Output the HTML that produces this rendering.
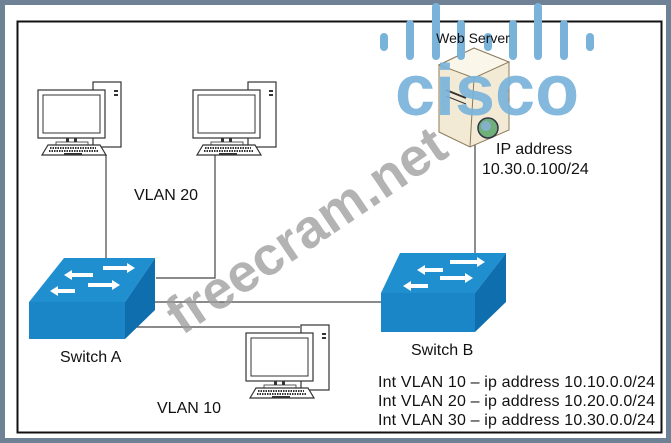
<!DOCTYPE html>
<html><head><meta charset="utf-8"><style>
html,body{margin:0;padding:0;background:#6f8195;}
svg{display:block}
text{font-family:"Liberation Sans",sans-serif;}
</style></head><body>
<svg width="671" height="443" viewBox="0 0 671 443" xmlns="http://www.w3.org/2000/svg">
<rect x="0" y="0" width="671" height="443" fill="#6f8195"/>
<rect x="5" y="5" width="661" height="433" fill="#fff"/>
<rect x="17.5" y="21.5" width="644" height="411" fill="none" stroke="#111" stroke-width="2"/>
<defs>
<g id="pc">
 <rect x="55" y="0" width="28" height="65" fill="#fff" stroke="#333" stroke-width="1.2"/>
 <rect x="76" y="8" width="4" height="2" fill="#333"/><rect x="76" y="12" width="4" height="2" fill="#333"/>
 <rect x="0" y="8" width="67" height="48" fill="#fff" stroke="#333" stroke-width="1.2"/>
 <rect x="5" y="13" width="57" height="38" fill="#fff" stroke="#333" stroke-width="1"/>
 <rect x="28" y="56" width="3" height="5" fill="#333"/><rect x="36" y="56" width="3" height="5" fill="#333"/>
 <rect x="18" y="60" width="32" height="3" fill="#fff" stroke="#333" stroke-width="0.8"/>
 <polygon points="4,73 10,63 62,63 68,73" fill="#fff" stroke="#333" stroke-width="1.2"/>
 <line x1="12" y1="66" x2="58" y2="66" stroke="#333" stroke-width="2" stroke-dasharray="1.5 1"/>
 <line x1="11" y1="69" x2="60" y2="69" stroke="#333" stroke-width="2" stroke-dasharray="1.5 1"/>
 <rect x="26" y="71" width="18" height="2" fill="#333"/>
</g>
</defs>
<g stroke="#444" stroke-width="1.2" fill="none">
<line x1="106" y1="155" x2="106" y2="260"/>
<polyline points="215,155 215,278 156,278"/>
<line x1="150" y1="302" x2="382" y2="302"/>
<line x1="125" y1="327" x2="300" y2="327"/>
<line x1="475" y1="145" x2="475" y2="255"/>
</g>
<use href="#pc" x="38" y="82"/>
<use href="#pc" x="193" y="82"/>
<use href="#pc" x="246" y="325"/>
<!-- Switch A -->
<polygon points="29,302 64,258 155,258 125,302" fill="#1f8fd0"/>
<polygon points="125,302 155,258 155,310 125,339" fill="#0f6fae"/>
<rect x="29" y="302" width="96" height="37" fill="#1a86c8"/>
<g fill="#fff">
<polygon points="103,266 127,266 127,263 135,268 127,273 127,270 103,270"/>
<polygon points="93,273 72,273 72,270 64,275 72,280 72,277 93,277"/>
<polygon points="88,283 112,283 112,280 120,285 112,290 112,287 88,287"/>
<polygon points="75,289 58,289 58,286 50,291 58,296 58,293 75,293"/>
</g>
<!-- Switch B -->
<polygon points="381,293 400,253 506,253 475,293" fill="#1f8fd0"/>
<polygon points="475,293 506,253 506,302 475,332" fill="#0f6fae"/>
<rect x="381" y="293" width="94" height="39" fill="#1a86c8"/>
<g fill="#fff">
<polygon points="450,260 477,260 477,257 485,262 477,267 477,264 450,264"/>
<polygon points="443,268 425,268 425,265 417,270 425,275 425,272 443,272"/>
<polygon points="440,276 465,276 465,273 473,278 465,283 465,280 440,280"/>
<polygon points="428,284 411,284 411,281 403,286 411,291 411,288 428,288"/>
</g>
<!-- Server -->
<polygon points="439,65 474,48 509,62 509,130 470,147 439,132" fill="#f3ead6" stroke="#8a7a5a" stroke-width="1"/>
<polygon points="439,65 474,48 509,62 474,78" fill="#fbf6ea" stroke="#8a7a5a" stroke-width="1"/>
<line x1="474" y1="78" x2="470" y2="147" stroke="#8a7a5a"/>
<line x1="446" y1="90" x2="466" y2="98" stroke="#333" stroke-width="2"/>
<line x1="446" y1="96" x2="466" y2="104" stroke="#333" stroke-width="1"/>
<circle cx="488" cy="128" r="10" fill="#6fb07a" stroke="#334" stroke-width="1.5"/>
<circle cx="486" cy="126" r="5" fill="#8ab0e0" opacity="0.8"/>
<!-- watermark -->
<text x="0" y="0" transform="translate(182,336) rotate(-34)" font-size="54" font-weight="bold" fill="#9a9a9a" fill-opacity="0.75">freecram.net</text>
<!-- cisco logo -->
<g fill="#7ab3da">
<rect x="380" y="33" width="8" height="18" rx="4"/>
<rect x="406" y="20" width="8" height="40" rx="4"/>
<rect x="432" y="3" width="8" height="57" rx="4"/>
<rect x="457" y="20" width="8" height="40" rx="4"/>
<rect x="484" y="33" width="8" height="18" rx="4"/>
<rect x="509" y="20" width="8" height="40" rx="4"/>
<rect x="534" y="3" width="8" height="57" rx="4"/>
<rect x="560" y="20" width="8" height="40" rx="4"/>
<rect x="586" y="33" width="8" height="18" rx="4"/>
</g>
<text x="487" y="115" text-anchor="middle" font-size="72" font-weight="bold" fill="#7ab3da" fill-opacity="0.92">cisco</text>
<g font-size="16" fill="#111">
<text x="473" y="43" text-anchor="middle" font-size="14">Web Server</text>
<text x="496" y="154">IP address</text>
<text x="482" y="174">10.30.0.100/24</text>
<text x="134" y="200">VLAN 20</text>
<text x="60" y="362">Switch A</text>
<text x="411" y="355">Switch B</text>
<text x="157" y="413">VLAN 10</text>
<text x="378" y="387" textLength="277">Int VLAN 10 – ip address 10.10.0.0/24</text>
<text x="378" y="406" textLength="277">Int VLAN 20 – ip address 10.20.0.0/24</text>
<text x="378" y="425" textLength="277">Int VLAN 30 – ip address 10.30.0.0/24</text>
</g>
</svg>
</body></html>
